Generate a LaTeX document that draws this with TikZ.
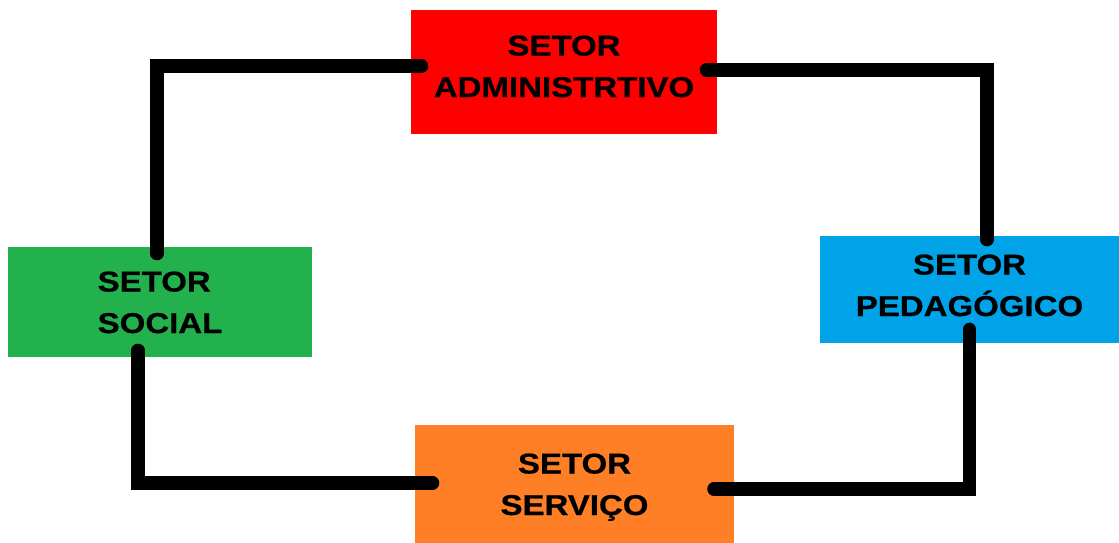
\documentclass[tikz,border=0pt]{standalone}
\usepackage{fontspec}
\newfontfamily\boxFont[FakeStretch=1.15, FakeBold=0.6]{Liberation Sans}
\usetikzlibrary{positioning}

\definecolor{paintRed}{RGB}{255,0,0}
\definecolor{paintGreen}{RGB}{34,177,76}
\definecolor{paintBlue}{RGB}{0,162,232}
\definecolor{paintOrange}{RGB}{255,127,39}

\begin{document}
\begin{tikzpicture}[x=0.025cm, y=-0.025cm,
    sectorBox/.style={inner sep=0pt, align=center, text=black, text height=44.1pt, text depth=0pt,
        font=\boxFont\bfseries\fontsize{20.4pt}{29.5pt}\selectfont},
    link/.style={line width=0.33cm, line cap=round, line join=miter, black}]
    \useasboundingbox (0,0) rectangle (1119,543);

    \node[sectorBox, fill=paintRed, text depth=8.5pt, minimum width=7.65cm, minimum height=3.1cm] (admin) at (564,72) {SETOR\\ADMINISTRTIVO};
    \node[sectorBox, fill=paintGreen, align=left, minimum width=7.6cm, minimum height=2.75cm] (social) at (160,302) {SETOR\\SOCIAL};
    \node[sectorBox, fill=paintBlue, text depth=6.4pt, minimum width=7.475cm, minimum height=2.675cm] (pedag) at (969.5,289.5) {SETOR\\PEDAGÓGICO};
    \node[sectorBox, fill=paintOrange, minimum width=7.975cm, minimum height=2.95cm] (servico) at (574.5,484) {SETOR\\SERVIÇO};

    \draw[link] ([shift={(11,-6)}]admin.west) -| ([shift={(-3,7)}]social.north);
    \draw[link] ([shift={(-11,-2)}]admin.east) -| ([shift={(17.5,4)}]pedag.north);
    \draw[link] ([shift={(-22,-7)}]social.south) |- ([shift={(18,-1)}]servico.west);
    \draw[link] ([shift={(0,-14)}]pedag.south) |- ([shift={(-20.5,5)}]servico.east);
\end{tikzpicture}
\end{document}
